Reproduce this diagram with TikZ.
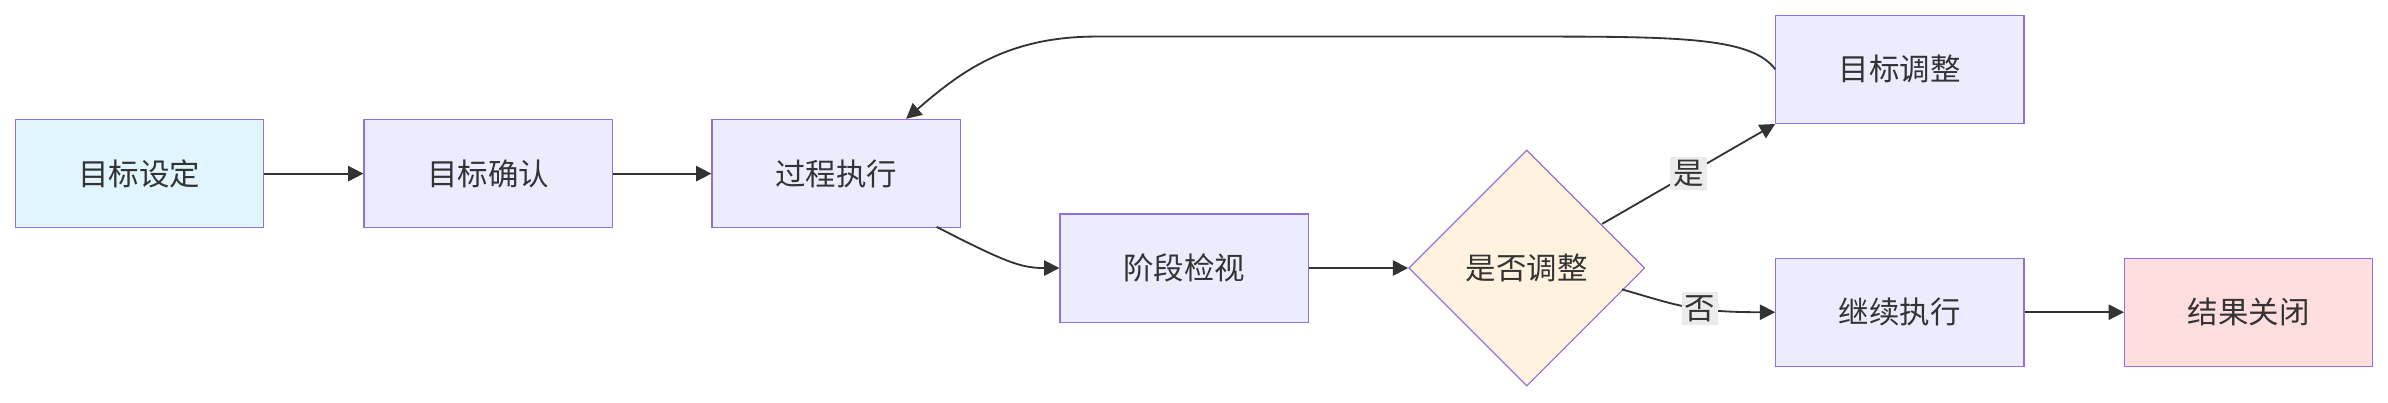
\documentclass[tikz,border=0pt]{standalone}
\usepackage{fontspec}
\setmainfont{Noto Sans CJK SC}
\usetikzlibrary{shapes.geometric,arrows.meta}
\definecolor{boxfill}{HTML}{ECECFF}
\definecolor{boxline}{HTML}{9370DB}
\definecolor{startfill}{HTML}{E1F5FE}
\definecolor{endfill}{HTML}{FFDEE0}
\definecolor{decfill}{HTML}{FFF3E0}
\definecolor{edge}{HTML}{333333}
\tikzset{
  box/.style={draw=boxline,fill=boxfill,minimum width=81.5pt,minimum height=35.5pt,inner sep=0pt,font=\fontsize{10}{12}\selectfont,text=edge},
  decision/.style={diamond,draw=boxline,fill=decfill,minimum width=77.5pt,minimum height=77.5pt,inner sep=0pt,font=\fontsize{10}{12}\selectfont,text=edge},
  flow/.style={draw=edge,line width=0.6pt,-{Triangle[length=5pt,width=5pt]}},
  tag/.style={fill=black!8,inner sep=1pt,font=\fontsize{10}{12}\selectfont,text=edge}
}
\begin{document}
\begin{tikzpicture}[x=0.5pt,y=-0.5pt]
\useasboundingbox (0,0) rectangle (1568,264);
% nodes
\node[box,fill=startfill] (set) at (91.5,114) {目标设定};
\node[box] (confirm) at (320.5,114) {目标确认};
\node[box] (exec) at (549,114) {过程执行};
\node[box] (review) at (777.5,176) {阶段检视};
\node[decision] (adjust) at (1002.5,176) {是否调整};
\node[box] (goal) at (1247.5,45.5) {目标调整};
\node[box] (cont) at (1247.5,205) {继续执行};
\node[box,fill=endfill] (close) at (1476.5,205) {结果关闭};
% edges
\draw[flow] (set) -- (confirm);
\draw[flow] (confirm) -- (exec);
\draw[flow] (615,149) .. controls (660,172) and (670,176) .. (review.west);
\draw[flow] (review) -- (adjust);
\draw[flow] (1052,147) -- (goal.south west) node[tag,pos=0.5] {是};
\draw[flow] (1065,190) .. controls (1100,200) and (1110,205) .. (cont.west) node[tag,pos=0.6] {否};
\draw[flow] (goal.west) .. controls (1150,24) and (1100,24) .. (1000,24) -- (720,24) .. controls (660,24) and (630,48) .. (595,78);
\draw[flow] (cont) -- (close);
\end{tikzpicture}
\end{document}
